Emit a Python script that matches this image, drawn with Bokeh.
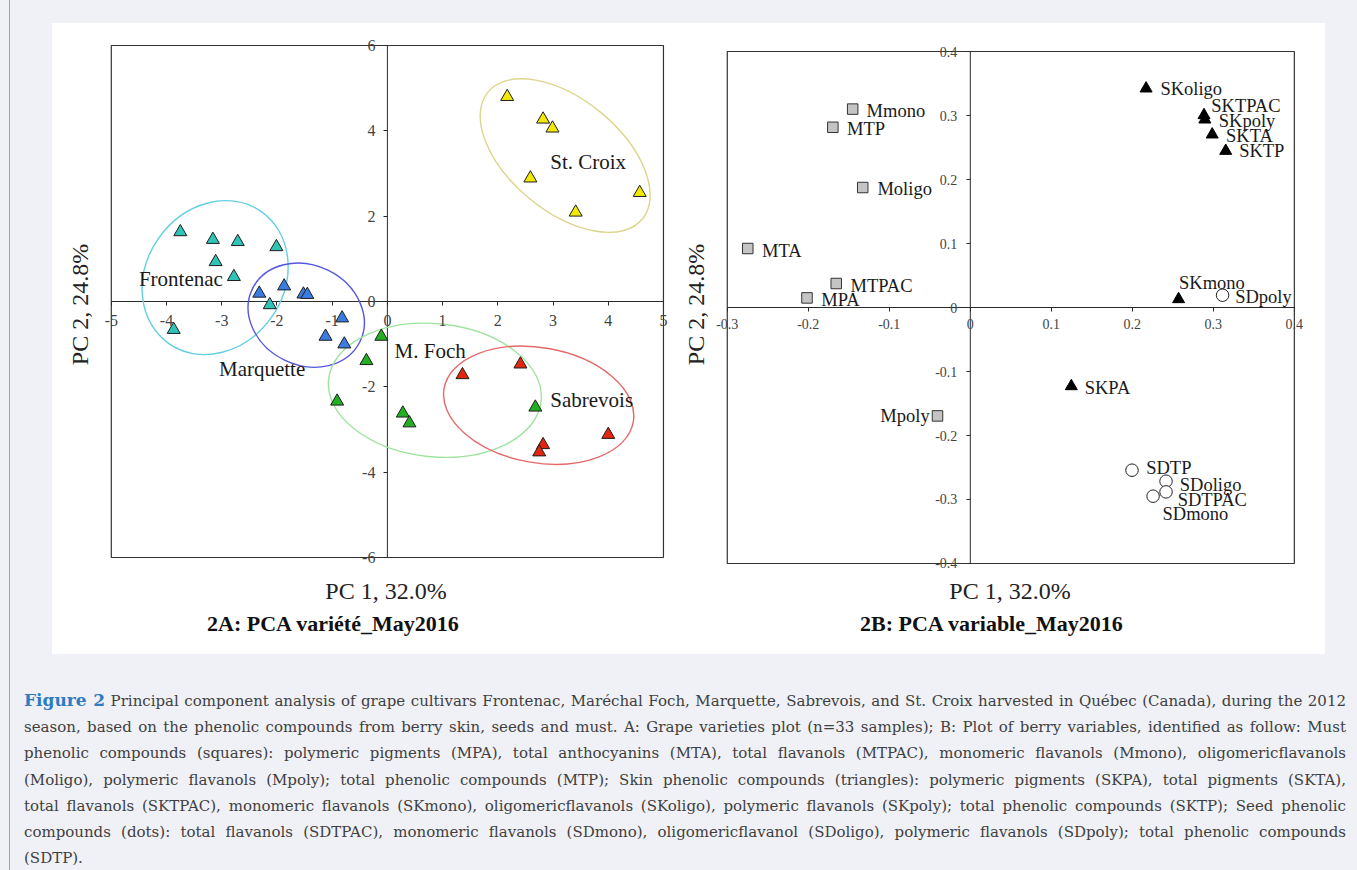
from bokeh.plotting import figure
from bokeh.models import (ColumnDataSource, FixedTicker, LinearAxis, Range1d, Spacer, Div)
from bokeh.layouts import row, column
from bokeh.embed import file_html
from bokeh.resources import INLINE
from bokeh.core.properties import value

# ---------------- Panel A: sample scores ----------------
frontenac_pc1 = [-3.75, -3.16, -2.71, -2.01, -3.11, -2.78, -2.13, -3.87]
frontenac_pc2 = [1.63, 1.45, 1.40, 1.28, 0.93, 0.58, -0.08, -0.66]
marquette_pc1 = [-2.32, -1.87, -1.52, -1.45, -0.82, -1.12, -0.78]
marquette_pc2 = [0.19, 0.36, 0.17, 0.16, -0.39, -0.82, -1.00]
foch_pc1 = [-0.11, -0.38, -0.91, 0.28, 0.40, 2.68]
foch_pc2 = [-0.82, -1.39, -2.34, -2.62, -2.85, -2.48]
sabrevois_pc1 = [1.36, 2.41, 2.82, 2.75, 4.00]
sabrevois_pc2 = [-1.72, -1.47, -3.36, -3.53, -3.12]
stcroix_pc1 = [2.17, 2.82, 2.99, 2.59, 3.41, 4.57]
stcroix_pc2 = [4.80, 4.27, 4.06, 2.89, 2.09, 2.55]

group_names = ["Frontenac", "Marquette", "M. Foch", "Sabrevois", "St. Croix"]
group_label_x = [-4.50, -3.05, 0.13, 2.95, 2.95]
group_label_y = [0.53, -1.59, -1.15, -2.31, 3.26]

# confidence ellipses (centre, width, height in data units, angle in radians)
ellipse_cx = [-3.12, -1.47, 0.86, 2.74, 3.22]
ellipse_cy = [0.56, -0.32, -2.08, -2.43, 3.42]
ellipse_w = [2.92, 2.17, 3.87, 3.48, 3.62]
ellipse_h = [3.23, 2.34, 3.12, 2.70, 2.62]
ellipse_angle = [0.96, -0.46, -0.10, -0.175, -0.688]

xticks_A = [-5, -4, -3, -2, -1, 0, 1, 2, 3, 4, 5]
xtick_labels_A = ["-5", "-4", "-3", "-2", "-1", "0", "1", "2", "3", "4", "5"]
yticks_A = [-6, -4, -2, 0, 2, 4, 6]
ytick_labels_A = ["-6", "-4", "-2", "0", "2", "4", "6"]

# ---------------- Panel B: variable loadings ----------------
must_names = ["Mmono", "MTP", "Moligo", "MTA", "MTPAC", "MPA", "Mpoly"]
must_pc1 = [-0.1452, -0.1697, -0.1328, -0.2747, -0.1655, -0.2016, -0.0405]
must_pc2 = [0.310, 0.2816, 0.1875, 0.0922, 0.0375, 0.0150, -0.1694]

skin_names = ["SKoligo", "SKTPAC", "SKpoly", "SKTA", "SKTP", "SKmono", "SKPA"]
skin_pc1 = [0.2170, 0.2885, 0.2895, 0.2986, 0.3153, 0.2571, 0.1247]
skin_pc2 = [0.3422, 0.3005, 0.2937, 0.2703, 0.2447, 0.0130, -0.1230]

seed_names = ["SDpoly", "SDTP", "SDoligo", "SDTPAC", "SDmono"]
seed_pc1 = [0.3114, 0.1996, 0.2416, 0.2416, 0.2256]
seed_pc2 = [0.0192, -0.2542, -0.2714, -0.2881, -0.2948]

xticks_B = [-0.3, -0.2, -0.1, 0, 0.1, 0.2, 0.3, 0.4]
xtick_labels_B = ["-0.3", "-0.2", "-0.1", "0", "0.1", "0.2", "0.3", "0.4"]
yticks_B = [-0.4, -0.3, -0.2, -0.1, 0, 0.1, 0.2, 0.3, 0.4]
ytick_labels_B = ["-0.4", "-0.3", "-0.2", "-0.1", "0", "0.1", "0.2", "0.3", "0.4"]

# label placement (screen pixel offsets from each marker)
must_label_dx = [13.9, 14.2, 14.7, 14.3, 14.3, 14.2, -7.8]
must_label_dy = [2.2, 1.3, 1.0, 2.5, 2.5, 2.3, 0.1]
skin_label_dx = [14.3, 7.3, 13.9, 13.8, 13.4, 0.4, 13.4]
skin_label_dy = [0.5, -8.7, 1.5, 1.7, 0.5, -15.7, 1.5]
seed_label_dx = [12.6, 14.2, 13.8, 11.6, 9.5]
seed_label_dy = [1.7, -1.7, 3.5, 8.6, 17.7]

SERIF = "Liberation Serif"
BG = "#f0f1f6"
TICK_COLOR = "#444444"
LINE = "#2a2a2a"


def blank_axis(label, standoff, size):
    return LinearAxis(ticker=FixedTicker(ticks=[]), axis_label=label,
                      axis_line_color=None, major_tick_line_color=None,
                      minor_tick_line_color=None, major_tick_out=0, major_tick_in=0,
                      minor_tick_out=0, minor_tick_in=0, major_label_standoff=0,
                      axis_label_standoff=standoff, axis_label_text_font=SERIF,
                      axis_label_text_font_size=size, axis_label_text_font_style="normal",
                      axis_label_text_color="#222222")


def center_axes(p, xt, xl, yt, yl, tick_size, xstand, ystand):
    """Axes crossing at the origin, enclosed in a box at the outer ticks."""
    xa, ya = p.xaxis[0], p.yaxis[0]
    xa.ticker = FixedTicker(ticks=xt)
    ya.ticker = FixedTicker(ticks=yt)
    xa.major_label_overrides = dict(zip(xt, xl))
    ya.major_label_overrides = dict(zip(yt, yl))
    for ax in (xa, ya):
        ax.fixed_location = 0
        ax.axis_line_color = None
        ax.major_tick_line_color = LINE
        ax.major_tick_out = 4
        ax.major_tick_in = 0
        ax.minor_tick_line_color = None
        ax.major_label_text_font = SERIF
        ax.major_label_text_font_size = tick_size
        ax.major_label_text_color = TICK_COLOR
    xa.major_label_standoff = xstand
    ya.major_label_standoff = ystand
    # the two zero lines and the enclosing box
    p.segment(x0=[xt[0], 0], y0=[0, yt[0]], x1=[xt[-1], 0], y1=[0, yt[-1]],
              line_color=LINE, line_width=1)
    p.quad(left=xt[0], right=xt[-1], bottom=yt[0], top=yt[-1], fill_color=None,
           line_color="#333333", line_width=1.2)


# ---------------- figure A ----------------
pA = figure(width=626, height=587, x_range=Range1d(-5.25, 5.2), y_range=Range1d(-6.398, 6.258),
            output_backend="svg", toolbar_location=None,
            min_border_left=45, min_border_right=4, min_border_top=11, min_border_bottom=36,
            background_fill_color="white", border_fill_color="white",
            outline_line_color=None)
pA.grid.visible = False
center_axes(pA, xticks_A, xtick_labels_A, yticks_A, ytick_labels_A, "16px", 9, 8)

ell_colors = ["#62d0e0", "#5656e2", "#9fe39f", "#e46a6a", "#dcd58c"]
pA.ellipse(x=ellipse_cx, y=ellipse_cy, width=ellipse_w, height=ellipse_h,
           angle=ellipse_angle, fill_color=None, line_color=ell_colors, line_width=1.4)

groups = [
    (frontenac_pc1, frontenac_pc2, "#2fc4b8"),
    (marquette_pc1, marquette_pc2, "#3b7ce2"),
    (foch_pc1, foch_pc2, "#22b022"),
    (sabrevois_pc1, sabrevois_pc2, "#e2260f"),
    (stcroix_pc1, stcroix_pc2, "#f4e800"),
]
for gx, gy, col in groups:
    pA.scatter(gx, gy, marker="triangle", size=13, fill_color=col,
               line_color="#1e1e1e", line_width=1)

pA.text(x=group_label_x, y=group_label_y, text=group_names, text_font=value(SERIF),
        text_font_size="21px", text_color="#1a1a1a", text_baseline="middle",
        text_align="left")

pA.add_layout(blank_axis("PC 2, 24.8%", 5, "24px"), "left")
pA.add_layout(blank_axis("PC 1, 32.0%", 3, "24px"), "below")

# ---------------- figure B ----------------
pB = figure(width=647, height=587, x_range=Range1d(-0.317, 0.415),
            y_range=Range1d(-0.4172, 0.4266),
            output_backend="svg", toolbar_location=None,
            min_border_left=35, min_border_right=19, min_border_top=11, min_border_bottom=36,
            background_fill_color="white", border_fill_color="white",
            outline_line_color=None)
pB.grid.visible = False
center_axes(pB, xticks_B, xtick_labels_B, yticks_B, ytick_labels_B, "14px", 7, 9)

pB.scatter(must_pc1, must_pc2, marker="square", size=10.5, fill_color="#c4c4c4",
           line_color="#333333", line_width=1)
pB.scatter(skin_pc1, skin_pc2, marker="triangle", size=12, fill_color="black",
           line_color="black", line_width=1)
pB.scatter(seed_pc1, seed_pc2, marker="circle", size=12.5, fill_color="white",
           line_color="#222222", line_width=1)

lab_font = dict(text_font=value(SERIF), text_font_size="18.5px", text_color="#1a1a1a",
                text_baseline="middle")
src_must_l = ColumnDataSource(dict(x=must_pc1[:6], y=must_pc2[:6], t=must_names[:6],
                                   dx=must_label_dx[:6], dy=must_label_dy[:6]))
src_must_r = ColumnDataSource(dict(x=must_pc1[6:], y=must_pc2[6:], t=must_names[6:],
                                   dx=must_label_dx[6:], dy=must_label_dy[6:]))
src_skin = ColumnDataSource(dict(x=skin_pc1, y=skin_pc2, t=skin_names,
                                 dx=skin_label_dx, dy=skin_label_dy))
src_seed = ColumnDataSource(dict(x=seed_pc1, y=seed_pc2, t=seed_names,
                                 dx=seed_label_dx, dy=seed_label_dy))
for src, al in ((src_must_l, "left"), (src_must_r, "right"), (src_skin, "left"),
                (src_seed, "left")):
    pB.text(x="x", y="y", text="t", x_offset="dx", y_offset="dy", source=src,
            text_align=al, **lab_font)

pB.add_layout(blank_axis("PC 2, 24.8%", 5, "24px"), "left")
pB.add_layout(blank_axis("PC 1, 32.0%", 3, "24px"), "below")

# ---------------- panel titles ----------------
titles_html = (
    '<div style="position:relative;width:1273px;height:44px;background:white;'
    'font-family:\'Liberation Serif\';font-weight:bold;font-size:22px;line-height:26px;color:#111;">'
    '<span style="position:absolute;left:155px;top:1px;white-space:nowrap;">2A: PCA variété_May2016</span>'
    '<span style="position:absolute;left:808px;top:1px;white-space:nowrap;">2B: PCA variable_May2016</span>'
    '</div>')
titles = Div(text=titles_html, width=1273, height=44, margin=0)

# ---------------- caption ----------------
caption_lines = [
    '<span style="font-weight:bold;color:#2e7bc4;font-size:17px;">Figure 2</span> Principal component analysis of grape cultivars Frontenac, Maréchal Foch, Marquette, Sabrevois, and St. Croix harvested in Québec (Canada), during the 2012',
    "season, based on the phenolic compounds from berry skin, seeds and must. A: Grape varieties plot (n=33 samples); B: Plot of berry variables, identified as follow: Must",
    "phenolic compounds (squares): polymeric pigments (MPA), total anthocyanins (MTA), total flavanols (MTPAC), monomeric flavanols (Mmono), oligomericflavanols",
    "(Moligo), polymeric flavanols (Mpoly); total phenolic compounds (MTP); Skin phenolic compounds (triangles): polymeric pigments (SKPA), total pigments (SKTA),",
    "total flavanols (SKTPAC), monomeric flavanols (SKmono), oligomericflavanols (SKoligo), polymeric flavanols (SKpoly); total phenolic compounds (SKTP); Seed phenolic",
    "compounds (dots): total flavanols (SDTPAC), monomeric flavanols (SDmono), oligomericflavanol (SDoligo), polymeric flavanols (SDpoly); total phenolic compounds",
    "(SDTP).",
]
parts = []
for i, ln in enumerate(caption_lines):
    last = "left" if i == len(caption_lines) - 1 else "justify"
    parts.append(f'<div style="text-align:justify;text-align-last:{last};white-space:nowrap;">{ln}</div>')
cap_html = ('<div style="font-family:\'DejaVu Serif\';font-size:15px;line-height:26.2px;'
            'color:#404040;width:1322px;padding-top:33px;">' + "".join(parts) + "</div>")
caption = Div(text=cap_html, width=1325, height=216, margin=0)

panels = column(row(pA, pB), titles, styles={"background-color": "white"})
root = column(
    Spacer(width=1357, height=23),
    row(Spacer(width=52, height=631), panels),
    row(Spacer(width=24, height=216), caption),
    width=1357, height=870,
    styles={"background": f"linear-gradient(to right, {BG} 9px, #a3a3a3 9px, #a3a3a3 10px, {BG} 10px)"},
)

open("out.html", "w").write(file_html(root, INLINE))
